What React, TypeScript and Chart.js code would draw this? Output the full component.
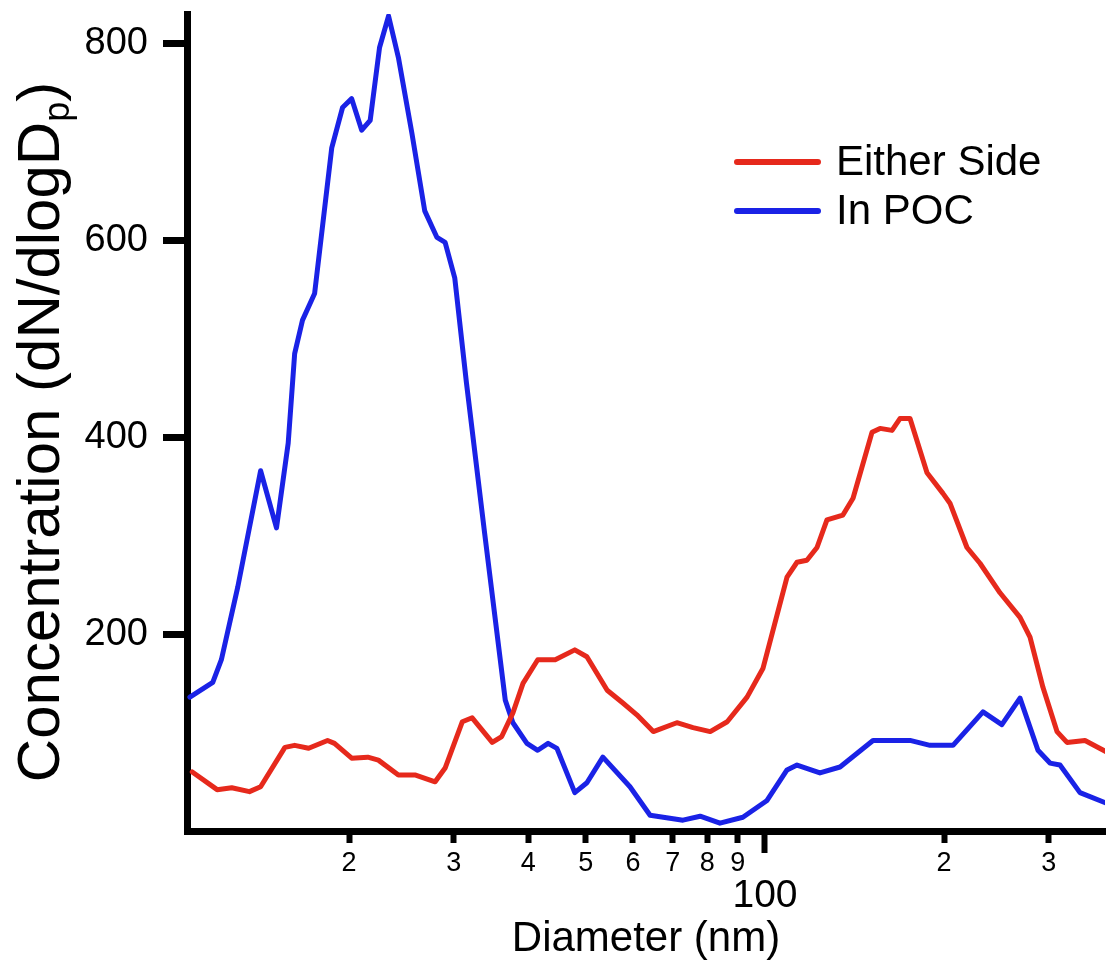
import { useEffect, useRef } from 'react';
import { Chart, registerables } from 'chart.js';

Chart.register(...registerables);

// Size distribution measured inside the POC
const diameterInPOC = [
  10.8, 11.8, 12.2, 13.0, 14.2, 15.1, 15.8, 16.2, 16.7, 17.5, 18.7, 19.5, 20.2, 21.0, 21.7,
  22.5, 23.3, 24.2, 25.5, 26.8, 28.1, 29.0, 30.1, 31.5, 33.8, 36.6, 37.7, 39.8, 41.5, 43.2,
  44.7, 47.9, 50.2, 53.4, 59.3, 64.1, 69.2, 72.8, 77.8, 84.0, 91.8, 100.8, 108.9, 113.2, 123.7,
  133.7, 151.9, 175.3, 189.4, 207.0, 232.5, 250.1, 268.3, 287.6, 301.3, 313.2, 338.4, 375.7,
];
const concentrationInPOC = [
  136, 151, 174, 248, 366, 308, 394, 485, 519, 546, 694, 735, 744, 712, 722,
  796, 828, 786, 709, 630, 603, 598, 562, 455, 302, 133, 110, 89, 82, 89,
  84, 39, 49, 75, 45, 16, 13, 11, 15, 8, 14, 31, 62, 67, 59,
  65, 92, 92, 87, 87, 121, 108, 135, 82, 69, 67, 39, 28,
];

// Size distribution measured on either side of the POC
const diameterEitherSide = [
  10.9, 12.0, 12.7, 13.6, 14.2, 15.6, 16.2, 17.1, 18.4, 18.9, 20.2, 21.5, 22.4, 24.2, 25.8,
  27.9, 29.0, 31.0, 32.2, 34.8, 36.1, 37.7, 39.2, 41.5, 44.4, 47.9, 50.2, 54.3, 57.7, 60.9,
  64.9, 71.1, 75.7, 80.9, 86.4, 93.3, 99.2, 108.9, 113.2, 117.6, 122.3, 127.1, 135.2, 140.6, 151.3,
  156.1, 163.5, 168.6, 175.3, 187.2, 199.1, 204.6, 218.5, 229.8, 248.3, 268.3, 278.9, 293.2, 309.6, 321.8,
  345.0, 375.7,
];
const concentrationEitherSide = [
  60, 42, 44, 40, 45, 85, 87, 84, 92, 89, 74, 75, 72, 57, 57,
  50, 64, 111, 115, 90, 96, 120, 150, 174, 174, 184, 177, 143, 130, 118,
  101, 110, 105, 101, 111, 136, 165, 258, 273, 275, 288, 316, 321, 338, 405,
  409, 407, 419, 419, 364, 343, 333, 288, 272, 242, 217, 197, 146, 101, 90,
  92, 80,
];

const seriesLabels = ['Either Side', 'In POC'];
const seriesColors = ['#e6291c', '#1a22e6'];

const xTickValues = [20, 30, 40, 50, 60, 70, 80, 90, 100, 200, 300];
const yTickValues = [200, 400, 600, 800];
const xRange = [10.68, 372.8];
const yRange = [0, 830];

const FONT = "'Liberation Sans', Arial, Helvetica, sans-serif";

const toPoints = (xs: number[], ys: number[]) => xs.map((x, i) => ({ x, y: ys[i] }));

// Draws the rotated y title (with subscript p) and the line legend.
const figureText = {
  id: 'figureText',
  afterDraw(chart: any) {
    const { ctx } = chart;
    ctx.save();
    ctx.fillStyle = '#000';

    // y-axis title
    const mainText = 'Concentration (dN/dlogD';
    const subText = 'p';
    const endText = ')';
    const mainFont = `60px ${FONT}`;
    const subFont = `36px ${FONT}`;
    ctx.font = mainFont;
    const w1 = ctx.measureText(mainText).width;
    const w3 = ctx.measureText(endText).width;
    ctx.font = subFont;
    const w2 = ctx.measureText(subText).width;
    const total = w1 + w2 + w3;
    ctx.translate(40, 432);
    ctx.rotate(-Math.PI / 2);
    ctx.textBaseline = 'alphabetic';
    ctx.textAlign = 'left';
    let x = -total / 2;
    const base = 19;
    ctx.font = mainFont;
    ctx.fillText(mainText, x, base);
    x += w1;
    ctx.font = subFont;
    ctx.fillText(subText, x, base + 10);
    x += w2;
    ctx.font = mainFont;
    ctx.fillText(endText, x, base);
    ctx.restore();

    // legend
    ctx.save();
    ctx.font = `42px ${FONT}`;
    ctx.textBaseline = 'middle';
    ctx.textAlign = 'left';
    ctx.lineCap = 'round';
    chart.data.datasets.forEach((ds: any, i: number) => {
      const y = 162 + i * 49;
      ctx.strokeStyle = ds.borderColor;
      ctx.lineWidth = 6;
      ctx.beginPath();
      ctx.moveTo(737, y);
      ctx.lineTo(818, y);
      ctx.stroke();
      ctx.fillStyle = '#000';
      ctx.fillText(ds.label, 836, y + 1);
    });
    ctx.restore();
  },
};

export default function App() {
  const canvasRef = useRef<HTMLCanvasElement | null>(null);

  useEffect(() => {
    const canvas = canvasRef.current;
    if (!canvas) return;

    const lineStyle = {
      borderWidth: 5,
      pointRadius: 0,
      tension: 0,
      borderJoinStyle: 'round',
      borderCapStyle: 'round',
    };

    const chart = new Chart(canvas, {
      type: 'line',
      data: {
        datasets: [
          {
            label: seriesLabels[0],
            data: toPoints(diameterEitherSide, concentrationEitherSide),
            borderColor: seriesColors[0],
            backgroundColor: seriesColors[0],
            ...lineStyle,
          },
          {
            label: seriesLabels[1],
            data: toPoints(diameterInPOC, concentrationInPOC),
            borderColor: seriesColors[1],
            backgroundColor: seriesColors[1],
            ...lineStyle,
          },
        ],
      },
      options: {
        responsive: false,
        devicePixelRatio: 1,
        animation: false,
        layout: { padding: { top: 14, right: 2, left: 0, bottom: 0 } },
        plugins: {
          legend: { display: false },
          tooltip: { enabled: false },
        },
        scales: {
          x: {
            type: 'logarithmic',
            min: xRange[0],
            max: xRange[1],
            afterBuildTicks: (scale: any) => {
              scale.ticks = xTickValues.map((value) => ({ value }));
            },
            afterFit: (scale: any) => {
              scale.height = 136;
              scale.paddingLeft = 0;
              scale.paddingRight = 0;
            },
            border: { display: true, width: 7, color: '#000' },
            grid: {
              display: true,
              drawOnChartArea: false,
              drawTicks: true,
              tickLength: 22,
              tickWidth: 6,
              tickColor: '#000',
              tickBorderDash: (c: any) => (c.tick && c.tick.value === 100 ? [] : [8, 100]),
            },
            ticks: {
              autoSkip: false,
              maxRotation: 0,
              minRotation: 0,
              padding: -4,
              color: '#000',
              font: (c: any) =>
                c.tick && c.tick.value === 100
                  ? { size: 39, family: FONT, lineHeight: 94 / 39 }
                  : { size: 27, family: FONT, lineHeight: 30 / 27 },
              callback: (v: any) => {
                const n = Number(v);
                if (n === 100) return '100';
                const p = Math.pow(10, Math.floor(Math.log10(n) + 1e-9));
                return String(Math.round(n / p));
              },
            },
            title: {
              display: true,
              text: 'Diameter (nm)',
              color: '#000',
              font: { size: 42, family: FONT },
              padding: { top: 0, bottom: 2 },
            },
          },
          y: {
            type: 'linear',
            min: yRange[0],
            max: yRange[1],
            afterBuildTicks: (scale: any) => {
              scale.ticks = yTickValues.map((value) => ({ value }));
            },
            afterFit: (scale: any) => {
              scale.width = 187;
              scale.paddingTop = 0;
              scale.paddingBottom = 0;
            },
            border: { display: true, width: 7, color: '#000' },
            grid: {
              display: true,
              drawOnChartArea: false,
              drawTicks: true,
              tickLength: 24,
              tickWidth: 7,
              tickColor: '#000',
            },
            ticks: {
              padding: 15,
              color: '#000',
              font: { size: 38, family: FONT },
            },
            title: { display: false },
          },
        },
      },
      plugins: [figureText],
    } as any);

    return () => chart.destroy();
  }, []);

  return (
    <div
      style={{
        position: 'fixed',
        left: 0,
        top: 0,
        width: 1107,
        height: 967,
        background: '#fff',
      }}
    >
      <canvas ref={canvasRef} width={1107} height={967} style={{ display: 'block' }} />
    </div>
  );
}
